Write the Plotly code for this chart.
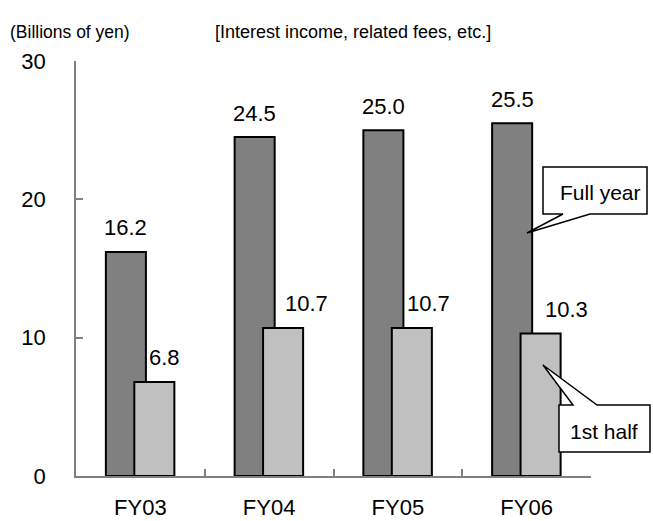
import plotly.graph_objects as go

# Fiscal-year categories and values (billions of yen)
years = ["FY03", "FY04", "FY05", "FY06"]
full_year = [16.2, 24.5, 25.0, 25.5]
first_half = [6.8, 10.7, 10.7, 10.3]
y_ticks = [0, 10, 20, 30]

FONT = "Liberation Sans, Arial, sans-serif"
W, H = 653, 521
L, R, T, B = 76, 62, 61, 45
PW, PH = W - L - R, H - T - B

BAR_W = 0.311
FULL_OFF = -0.268
HALF_OFF = -0.047


def paper(px, py):
    """Convert figure pixels to paper coordinates."""
    return (px - L) / PW, (H - B - py) / PH


xs = list(range(len(years)))

fig = go.Figure()
fig.add_trace(go.Bar(
    x=xs, y=full_year, name="Full year",
    width=BAR_W, offset=FULL_OFF,
    marker=dict(color="#808080", line=dict(color="#000000", width=2)),
))
fig.add_trace(go.Bar(
    x=xs, y=first_half, name="1st half",
    width=BAR_W, offset=HALF_OFF,
    marker=dict(color="#c0c0c0", line=dict(color="#000000", width=2)),
))

annotations = []
# value labels above each bar
full_c = FULL_OFF + BAR_W / 2
half_c = HALF_OFF + BAR_W / 2
half_nudge = [10, 23, 17, 26]
for i, v in enumerate(full_year):
    annotations.append(dict(x=i + full_c, y=v, xref="x", yref="y",
                            text=f"{v:.1f}", showarrow=False, yshift=24,
                            yanchor="middle", xanchor="center",
                            font=dict(size=22, color="#000", family=FONT)))
for i, v in enumerate(first_half):
    annotations.append(dict(x=i + half_c, y=v, xref="x", yref="y",
                            text=f"{v:.1f}", showarrow=False, yshift=24,
                            xshift=half_nudge[i],
                            yanchor="middle", xanchor="center",
                            font=dict(size=22, color="#000", family=FONT)))

# header texts
ux, uy = paper(8, 32)
annotations.append(dict(x=ux, y=uy, xref="paper", yref="paper",
                        text="(Billions of yen)", showarrow=False,
                        xanchor="left", yanchor="middle",
                        font=dict(size=17.5, color="#000", family=FONT)))
sx, sy = paper(213, 32)
annotations.append(dict(x=sx, y=sy, xref="paper", yref="paper",
                        text="[Interest income, related fees, etc.]",
                        showarrow=False, xanchor="left", yanchor="middle",
                        font=dict(size=18, color="#000", family=FONT)))


def callout_path(points):
    parts = []
    for k, (px, py) in enumerate(points):
        x, y = paper(px, py)
        parts.append(("M" if k == 0 else "L") + f"{x:.5f},{y:.5f}")
    return " ".join(parts) + " Z"


shapes = [
    # "Full year" callout: box with wedge pointing to the FY06 full-year bar
    dict(type="path", xref="paper", yref="paper", layer="above",
         path=callout_path([(543, 167), (647, 167), (647, 214), (590, 214),
                            (527, 233), (563, 214), (543, 214)]),
         fillcolor="white", line=dict(color="black", width=1.5)),
    # "1st half" callout: box with wedge pointing to the FY06 first-half bar
    dict(type="path", xref="paper", yref="paper", layer="above",
         path=callout_path([(559, 405), (573, 405), (543, 365), (597, 405),
                            (650, 405), (650, 452), (559, 452)]),
         fillcolor="white", line=dict(color="black", width=1.5)),
]
fx, fy = paper(600, 192)
annotations.append(dict(x=fx, y=fy, xref="paper", yref="paper",
                        text="Full year", showarrow=False,
                        xanchor="center", yanchor="middle",
                        font=dict(size=21, color="#000", family=FONT)))
hx, hy = paper(604, 431)
annotations.append(dict(x=hx, y=hy, xref="paper", yref="paper",
                        text="1st half", showarrow=False,
                        xanchor="center", yanchor="middle",
                        font=dict(size=21, color="#000", family=FONT)))

fig.update_layout(
    width=W, height=H,
    margin=dict(l=L, r=R, t=T, b=B, pad=0, autoexpand=False),
    paper_bgcolor="white", plot_bgcolor="white",
    barmode="overlay", showlegend=False,
    annotations=annotations, shapes=shapes,
    font=dict(family=FONT, color="#000"),
    xaxis=dict(
        range=[-0.5, len(years) - 0.5],
        tickmode="array", tickvals=xs, ticktext=years,
        ticks="inside", ticklen=0, tickcolor="#808080",
        minor=dict(tick0=0.5, dtick=1, ticks="inside", ticklen=7,
                   tickcolor="#808080", tickwidth=1.5, showgrid=False),
        showline=True, linecolor="#808080", linewidth=1.5,
        showgrid=False, zeroline=False, automargin=False,
        tickfont=dict(size=22, family=FONT, color="#000"),
        ticklabelstandoff=11,
    ),
    yaxis=dict(
        range=[0, 30], tickvals=y_ticks,
        ticks="inside", ticklen=7, tickcolor="#808080", tickwidth=1.5,
        showline=True, linecolor="#808080", linewidth=1.5,
        showgrid=False, zeroline=False, automargin=False,
        tickfont=dict(size=22, family=FONT, color="#000"),
        ticklabelstandoff=24,
    ),
)

fig.write_html("out.html")
